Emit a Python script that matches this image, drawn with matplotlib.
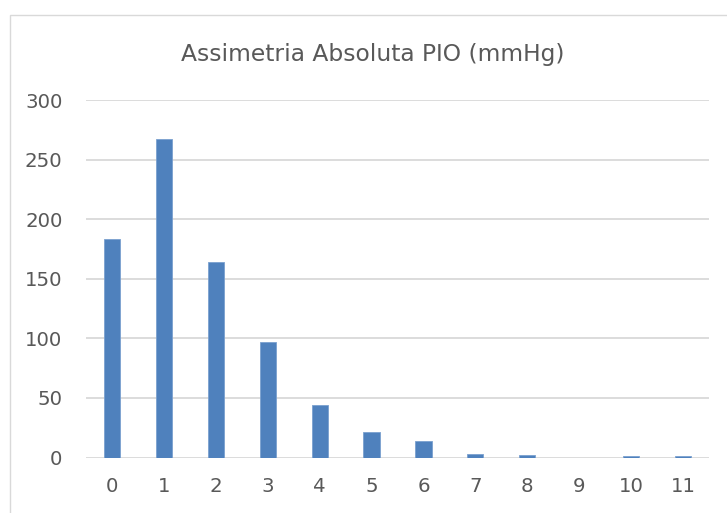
import matplotlib
matplotlib.use("Agg")
import matplotlib.pyplot as plt
from matplotlib.patches import Rectangle

# Asymmetry values (mmHg) and number of cases
categories = ["0", "1", "2", "3", "4", "5", "6", "7", "8", "9", "10", "11"]
counts = [183, 267, 164, 97, 44, 21, 14, 3, 2, 0, 1, 1]
y_ticks = [0, 50, 100, 150, 200, 250, 300]
title = "Assimetria Absoluta PIO (mmHg)"

plt.rcParams["font.family"] = ["DejaVu Sans"]

W, H = 727, 513
fig = plt.figure(figsize=(W / 100, H / 100), dpi=100)
fig.patch.set_facecolor("white")

# chart frame (extends past the right and bottom edges)
fig.patches.append(Rectangle((10 / W, -0.05), (736 - 10) / W, 1.05 - 15.5 / H,
                             transform=fig.transFigure, fill=False,
                             edgecolor="#d9d9d9", linewidth=1.0, zorder=0))

ax = fig.add_axes([86 / W, (H - 457.5) / H, (709 - 86) / W, (457.5 - 100) / H])
text_color = "#595959"
grid_color = "#d9d9d9"

x = list(range(len(categories)))
ax.bar(x, counts, width=0.31, color="#4f81bd", edgecolor="#7aa0cf",
       linewidth=0.6, zorder=3)

ax.set_xlim(-0.5, len(categories) - 0.5)
ax.set_ylim(0, 300)
ax.set_yticks(y_ticks)
ax.set_xticks(x)
ax.set_xticklabels(categories)

for y in y_ticks:
    ax.axhline(y, color=grid_color, linewidth=1.3, zorder=1)

for s in ax.spines.values():
    s.set_visible(False)
ax.tick_params(axis="both", length=0, labelsize=14.2, labelcolor=text_color)
ax.tick_params(axis="y", pad=17)
ax.tick_params(axis="x", pad=14)

fig.text((10 + 736) / 2 / W, 1 - 55 / H, title, ha="center", va="center",
         fontsize=16.8, color=text_color)

fig.savefig("out.png", dpi=100, facecolor="white")
